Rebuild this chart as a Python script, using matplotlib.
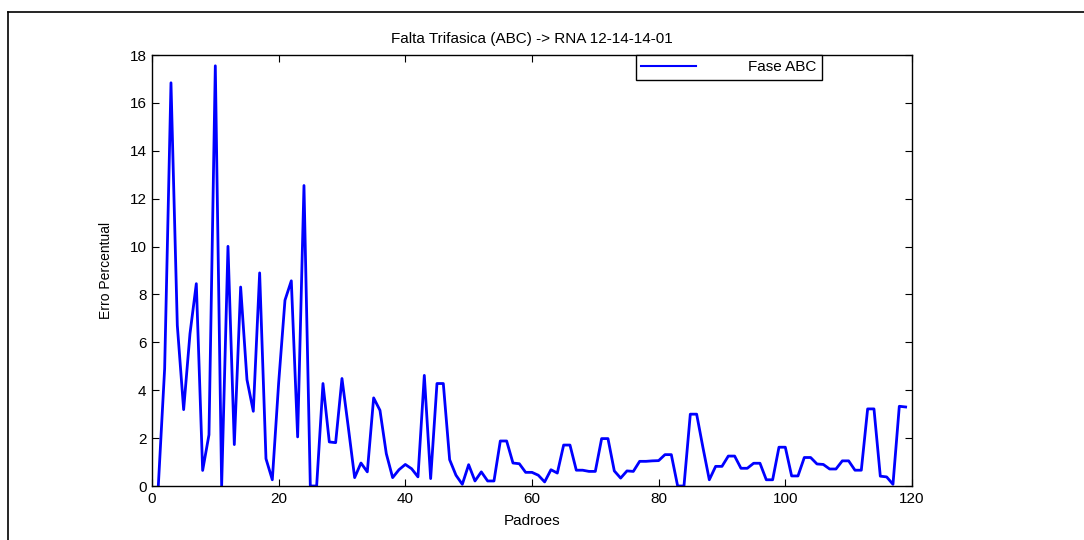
import numpy as np
import matplotlib
matplotlib.use('Agg')
import matplotlib.pyplot as plt
from matplotlib.lines import Line2D

plt.rcParams['font.family'] = ['Liberation Sans', 'DejaVu Sans']

# Percent error per training pattern (patterns 1..119)
padroes = np.arange(1, 120)
erro_abc = [
    0.00, 4.90, 16.84, 6.71, 3.19, 6.36, 8.45, 0.65, 2.14, 17.55,
    0.00, 10.01, 1.73, 8.31, 4.44, 3.12, 8.90, 1.14, 0.26, 4.30,
    7.76, 8.57, 2.05, 12.55, 0.00, 0.00, 4.28, 1.84, 1.81, 4.49,
    2.45, 0.35, 0.96, 0.59, 3.68, 3.16, 1.35, 0.35, 0.68, 0.90,
    0.72, 0.38, 4.62, 0.31, 4.28, 4.28, 1.10, 0.45, 0.07, 0.89,
    0.21, 0.59, 0.21, 0.21, 1.88, 1.88, 0.96, 0.93, 0.57, 0.57,
    0.45, 0.17, 0.68, 0.54, 1.71, 1.71, 0.66, 0.66, 0.61, 0.61,
    1.98, 1.98, 0.63, 0.33, 0.63, 0.61, 1.03, 1.03, 1.05, 1.06,
    1.31, 1.31, 0.00, 0.00, 3.00, 3.00, 1.60, 0.26, 0.82, 0.82,
    1.25, 1.25, 0.74, 0.74, 0.95, 0.95, 0.26, 0.26, 1.62, 1.62,
    0.42, 0.42, 1.19, 1.19, 0.92, 0.90, 0.71, 0.71, 1.05, 1.05,
    0.66, 0.66, 3.22, 3.22, 0.41, 0.38, 0.07, 3.33, 3.30,
]

fig = plt.figure(figsize=(10.84, 5.40), dpi=100)
ax = fig.add_axes([0.1402, 0.1, 0.7011, 0.7981])

ax.plot(padroes, erro_abc, color='#0000ff', linewidth=2.0, label='Fase ABC')

ax.set_xlim(0, 120)
ax.set_ylim(0, 18)
ax.set_xticks(np.arange(0, 121, 20))
ax.set_yticks(np.arange(0, 19, 2))
ax.tick_params(direction='in', length=5, width=0.8, top=True, right=True,
               labelsize=11, pad=4)
for s in ax.spines.values():
    s.set_linewidth(1.0)

ax.set_title('Falta Trifasica (ABC) -> RNA 12-14-14-01', fontsize=11, pad=9)
ax.set_xlabel('Padroes', fontsize=11, labelpad=6)
ax.set_ylabel('Erro Percentual', fontsize=10, labelpad=12)

leg = ax.legend(loc='upper right', bbox_to_anchor=(0.8816, 1.0),
                borderaxespad=0, fancybox=False, edgecolor='black',
                framealpha=1, fontsize=11, handlelength=3.6,
                handletextpad=3.4, borderpad=0.35)
leg.get_frame().set_linewidth(1.0)
for h in leg.get_lines():
    h.set_linewidth(1.5)

# outer frame line (top and left edge of the figure box)
fig.add_artist(Line2D([8 / 1084, 1.0], [1 - 12 / 540, 1 - 12 / 540],
                      transform=fig.transFigure, color='black', linewidth=1.2))
fig.add_artist(Line2D([8 / 1084, 8 / 1084], [0.0, 1 - 12 / 540],
                      transform=fig.transFigure, color='black', linewidth=1.2))

fig.savefig('out.png', dpi=100, facecolor='white')
